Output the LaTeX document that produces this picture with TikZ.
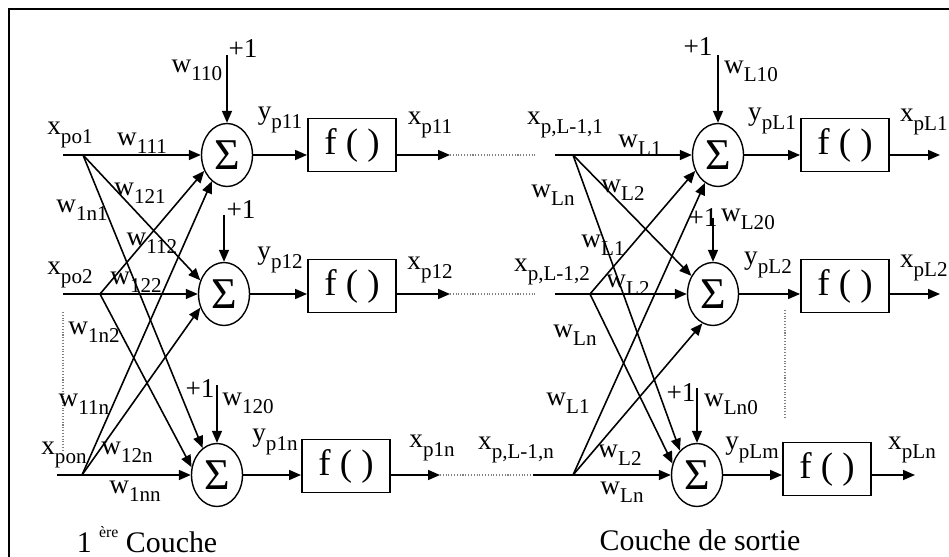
\documentclass[tikz,border=0pt]{standalone}
\usepackage{fontspec}
\setmainfont{Liberation Serif}
\usetikzlibrary{shapes.geometric,arrows.meta,positioning,calc}
\newcommand{\subl}[2]{#1\raisebox{-0.3em}{\fontsize{12}{12}\selectfont #2}}

\begin{document}
\begin{tikzpicture}[
    x=0.02cm, y=-0.02cm,
    font=\fontsize{15.5}{16}\selectfont,
    sum/.style={ellipse, draw, line width=0.8pt, minimum width=1.02cm, minimum height=1.26cm, inner sep=0pt, font=\fontsize{25}{25}\selectfont},
    fbox/.style={rectangle, draw, line width=1.1pt, minimum width=1.76cm, minimum height=1.06cm, font=\fontsize{21}{21}\selectfont},
    arrow/.style={-{Triangle[length=2.4mm,width=2mm]}, line width=0.9pt},
    wire/.style={line width=0.9pt},
    dots/.style={densely dotted, gray, line width=0.6pt}
]
\useasboundingbox (0,0) rectangle (949,557);
\draw[line width=1.2pt] (9,557) -- (9,9) -- (949,9);

% first layer
\node[sum] (s11) at (227,155) {Σ};
\node[sum] (s12) at (224,294) {Σ};
\node[sum] (s13) at (217,475) {Σ};
\node[fbox] (f11) at (352,145) {f ( )};
\node[fbox] (f12) at (352,286) {f ( )};
\node[fbox] (f13) at (346,466) {f ( )};

\coordinate (a1) at (63,155);
\coordinate (a2) at (63,294);
\coordinate (a3) at (57,475);
\coordinate (p1) at (83,155);
\coordinate (p2) at (100,294);
\coordinate (p3) at (82,475);
\coordinate (b11) at (227,55);
\coordinate (b12) at (224,215);
\coordinate (b13) at (217,385);
\coordinate (o11) at (450,155);
\coordinate (o12) at (450,294);
\coordinate (o13) at (440,475);

\draw[arrow] (a1) -- (s11);
\draw[arrow] (a2) -- (s12);
\draw[arrow] (a3) -- (s13);
\draw[arrow] (p1) -- (s12.150);
\draw[arrow] (p1) -- (s13.118);
\draw[arrow] (p2) -- (s11.215);
\draw[arrow] (p2) -- (s13.163);
\draw[arrow] (p3) -- (s11.240);
\draw[arrow] (p3) -- (s12.210);
\draw[arrow] (b11) -- (s11);
\draw[arrow] (b12) -- (s12);
\draw[arrow] (b13) -- (s13);
\draw[arrow] (s11) -- (s11 -| f11.west);
\draw[arrow] (s12) -- (s12 -| f12.west);
\draw[arrow] (s13) -- (s13 -| f13.west);
\draw[arrow] (o11 -| f11.east) -- (o11);
\draw[arrow] (o12 -| f12.east) -- (o12);
\draw[arrow] (o13 -| f13.east) -- (o13);
\draw[dots] (63,312) -- (63,450);

\node (xpo1) at (70,135) {\subl{x}{po1}};
\node (w111) at (142,143) {\subl{w}{111}};
\node (w121) at (140,193) {\subl{w}{121}};
\node (w1n1) at (82,210) {\subl{w}{1n1}};
\node (w112) at (152,243) {\subl{w}{112}};
\node (xpo2) at (70,275) {\subl{x}{po2}};
\node (w122) at (136,282) {\subl{w}{122}};
\node (w1n2) at (94,332) {\subl{w}{1n2}};
\node (w11n) at (84,404) {\subl{w}{11n}};
\node (xpon) at (64,455) {\subl{x}{pon}};
\node (w12n) at (127,452) {\subl{w}{12n}};
\node (w1nn) at (135,491) {\subl{w}{1nn}};
\node (one11) at (243,49) {+1};
\node (w110) at (197,70) {\subl{w}{110}};
\node (one12) at (241,210) {+1};
\node (one13) at (200,389) {+1};
\node (w120) at (248,403) {\subl{w}{120}};
\node (yp11) at (280,120) {\subl{y}{p11}};
\node (yp12) at (280,260) {\subl{y}{p12}};
\node (yp1n) at (275,442) {\subl{y}{p1n}};
\node (xp11) at (430,125) {\subl{x}{p11}};
\node (xp12) at (430,270) {\subl{x}{p12}};
\node (xp1n) at (432,448) {\subl{x}{p1n}};
\node (couche1) at (147,540) {\fontsize{17}{18}\selectfont 1 \raisebox{0.5em}{\fontsize{9}{9}\selectfont ère} Couche};

% output layer
\node[sum] (sL1) at (718,155) {Σ};
\node[sum] (sL2) at (713,294) {Σ};
\node[sum] (sL3) at (697,475) {Σ};
\node[fbox] (fL1) at (845,145) {f ( )};
\node[fbox] (fL2) at (845,286) {f ( )};
\node[fbox] (fL3) at (827,469) {f ( )};

\coordinate (d1) at (537,155);
\coordinate (d2) at (537,294);
\coordinate (d3) at (533,475);
\coordinate (i1) at (555,155);
\coordinate (i2) at (555,294);
\coordinate (i3) at (533,475);
\coordinate (q1) at (573,155);
\coordinate (q2) at (590,294);
\coordinate (q3) at (573,475);
\coordinate (bL1) at (718,55);
\coordinate (bL2) at (713,218);
\coordinate (bL3) at (697,388);
\coordinate (oL1) at (940,155);
\coordinate (oL2) at (940,294);
\coordinate (oL3) at (915,475);

\draw[dots] (o11) -- (d1);
\draw[dots] (o12) -- (d2);
\draw[dots] (o13) -- (d3);
\draw[arrow] (i1) -- (sL1);
\draw[arrow] (i2) -- (sL2);
\draw[arrow] (i3) -- (sL3);
\draw[arrow] (q1) -- (sL2.140);
\draw[arrow] (q1) -- (sL3.125);
\draw[arrow] (q2) -- (sL1.215);
\draw[arrow] (q2) -- (sL3.155);
\draw[arrow] (q3) -- (sL1.245);
\draw[arrow] (q3) -- (sL2.250);
\draw[arrow] (bL1) -- (sL1);
\draw[arrow] (bL2) -- (sL2);
\draw[arrow] (bL3) -- (sL3);
\draw[arrow] (sL1) -- (sL1 -| fL1.west);
\draw[arrow] (sL2) -- (sL2 -| fL2.west);
\draw[arrow] (sL3) -- (sL3 -| fL3.west);
\draw[arrow] (oL1 -| fL1.east) -- (oL1);
\draw[arrow] (oL2 -| fL2.east) -- (oL2);
\draw[arrow] (oL3 -| fL3.east) -- (oL3);
\draw[dots] (785,310) -- (785,418);

\node (xpL1in) at (565,125) {\subl{x}{p,L-1,1}};
\node (xpL2in) at (552,272) {\subl{x}{p,L-1,2}};
\node (xpLnin) at (516,450) {\subl{x}{p,L-1,n}};
\node (wL1a) at (640,145) {\subl{w}{L1}};
\node (wL2a) at (623,190) {\subl{w}{L2}};
\node (wLna) at (553,195) {\subl{w}{Ln}};
\node (wL1b) at (603,245) {\subl{w}{L1}};
\node (wL2b) at (628,285) {\subl{w}{L2}};
\node (wLnb) at (575,335) {\subl{w}{Ln}};
\node (wL1c) at (568,403) {\subl{w}{L1}};
\node (wL2c) at (620,455) {\subl{w}{L2}};
\node (wLnc) at (622,492) {\subl{w}{Ln}};
\node (oneL1) at (698,47) {+1};
\node (wL10) at (751,71) {\subl{w}{L10}};
\node (oneL2) at (703,218) {+1};
\node (wL20) at (748,219) {\subl{w}{L20}};
\node (oneL3) at (681,393) {+1};
\node (wLn0) at (731,404) {\subl{w}{Ln0}};
\node (ypL1) at (772,121) {\subl{y}{pL1}};
\node (ypL2) at (768,265) {\subl{y}{pL2}};
\node (ypLm) at (752,450) {\subl{y}{pLm}};
\node[anchor=east, inner sep=0pt] (xpL1) at (948,122) {\subl{x}{pL1}};
\node[anchor=east, inner sep=0pt] (xpL2) at (948,268) {\subl{x}{pL2}};
\node (xpLn) at (912,450) {\subl{x}{pLn}};
\node (couche2) at (700,540) {\fontsize{17}{18}\selectfont Couche de sortie};
\end{tikzpicture}
\end{document}
